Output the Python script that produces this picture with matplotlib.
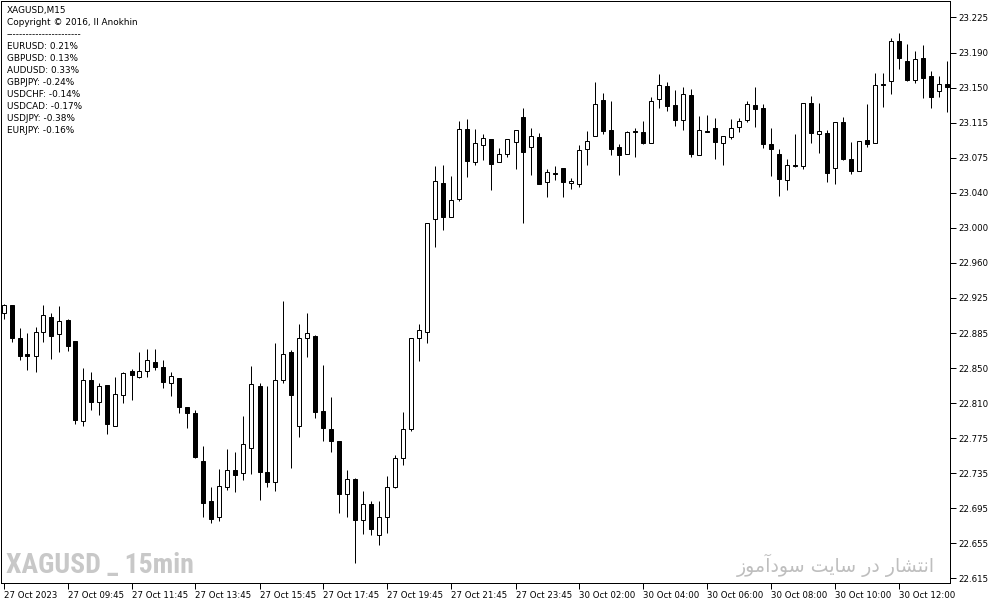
import numpy as np
import matplotlib
matplotlib.use("Agg")
import matplotlib.pyplot as plt

# ---------------- data (XAGUSD M15) ----------------
opens = [22.904, 22.912, 22.876, 22.859, 22.857, 22.883, 22.899, 22.881, 22.896, 22.873,
         22.786, 22.831, 22.807, 22.825, 22.781, 22.815, 22.841, 22.834, 22.841, 22.850,
         22.845, 22.828, 22.833, 22.802, 22.795, 22.743, 22.699, 22.682, 22.714, 22.733,
         22.730, 22.757, 22.824, 22.731, 22.720, 22.831, 22.861, 22.781, 22.876, 22.879,
         22.797, 22.777, 22.765, 22.707, 22.723, 22.679, 22.696, 22.662, 22.682, 22.714,
         22.746, 22.778, 22.876, 22.883, 23.006, 23.045, 23.008, 23.028, 23.104, 23.068,
         23.086, 23.093, 23.068, 23.077, 23.090, 23.117, 23.084, 23.095, 23.046, 23.056,
         23.061, 23.045, 23.044, 23.082, 23.096, 23.135, 23.103, 23.084, 23.077, 23.102,
         23.100, 23.089, 23.136, 23.151, 23.130, 23.114, 23.141, 23.076, 23.102, 23.105,
         23.088, 23.095, 23.106, 23.113, 23.130, 23.127, 23.087, 23.077, 23.048, 23.065,
         23.063, 23.132, 23.098, 23.099, 23.061, 23.111, 23.071, 23.058, 23.092, 23.088,
         23.153, 23.156, 23.199, 23.178, 23.157, 23.181, 23.161, 23.145, 23.153]
highs = [22.913, 22.912, 22.887, 22.882, 22.888, 22.912, 22.904, 22.911, 22.897, 22.873,
         22.844, 22.839, 22.828, 22.825, 22.834, 22.840, 22.843, 22.861, 22.864, 22.865,
         22.853, 22.840, 22.833, 22.802, 22.798, 22.759, 22.715, 22.734, 22.756, 22.752,
         22.792, 22.846, 22.828, 22.824, 22.871, 22.917, 22.863, 22.892, 22.904, 22.880,
         22.847, 22.812, 22.765, 22.733, 22.724, 22.710, 22.699, 22.699, 22.726, 22.749,
         22.796, 22.877, 22.892, 23.002, 23.064, 23.065, 23.053, 23.112, 23.115, 23.104,
         23.098, 23.093, 23.083, 23.093, 23.103, 23.127, 23.105, 23.099, 23.060, 23.064,
         23.061, 23.050, 23.086, 23.102, 23.155, 23.143, 23.134, 23.087, 23.102, 23.105,
         23.112, 23.138, 23.164, 23.155, 23.146, 23.149, 23.147, 23.118, 23.119, 23.116,
         23.096, 23.115, 23.116, 23.134, 23.149, 23.131, 23.105, 23.082, 23.071, 23.098,
         23.132, 23.140, 23.132, 23.103, 23.111, 23.117, 23.090, 23.091, 23.131, 23.165,
         23.165, 23.203, 23.208, 23.196, 23.189, 23.195, 23.167, 23.161, 23.178]
lows = [22.897, 22.872, 22.853, 22.842, 22.839, 22.872, 22.854, 22.861, 22.862, 22.783,
        22.781, 22.798, 22.793, 22.772, 22.781, 22.806, 22.809, 22.833, 22.834, 22.842,
        22.822, 22.813, 22.795, 22.779, 22.746, 22.682, 22.675, 22.677, 22.711, 22.709,
        22.722, 22.729, 22.700, 22.714, 22.710, 22.828, 22.735, 22.769, 22.856, 22.789,
        22.765, 22.753, 22.686, 22.682, 22.632, 22.663, 22.662, 22.651, 22.665, 22.713,
        22.738, 22.775, 22.851, 22.871, 22.975, 22.994, 23.008, 23.025, 23.051, 23.065,
        23.070, 23.037, 23.068, 23.073, 23.060, 23.001, 23.054, 23.044, 23.030, 23.048,
        23.030, 23.038, 23.041, 23.065, 23.096, 23.098, 23.076, 23.054, 23.077, 23.073,
        23.087, 23.089, 23.127, 23.123, 23.107, 23.103, 23.073, 23.076, 23.100, 23.071,
        23.065, 23.093, 23.100, 23.111, 23.106, 23.083, 23.053, 23.031, 23.037, 23.062,
        23.060, 23.088, 23.078, 23.046, 23.044, 23.070, 23.055, 23.058, 23.084, 23.088,
        23.128, 23.142, 23.169, 23.156, 23.154, 23.137, 23.127, 23.138, 23.122]
closes = [22.912, 22.876, 22.857, 22.857, 22.883, 22.902, 22.879, 22.895, 22.868, 22.787,
          22.831, 22.807, 22.824, 22.783, 22.816, 22.838, 22.836, 22.841, 22.853, 22.845,
          22.829, 22.835, 22.801, 22.795, 22.747, 22.697, 22.680, 22.716, 22.733, 22.728,
          22.761, 22.827, 22.731, 22.720, 22.831, 22.859, 22.815, 22.876, 22.882, 22.796,
          22.779, 22.765, 22.707, 22.723, 22.679, 22.696, 22.669, 22.682, 22.715, 22.746,
          22.778, 22.877, 22.885, 23.002, 23.047, 23.008, 23.026, 23.104, 23.069, 23.089,
          23.094, 23.066, 23.077, 23.093, 23.103, 23.079, 23.096, 23.044, 23.057, 23.055,
          23.046, 23.047, 23.081, 23.091, 23.131, 23.102, 23.082, 23.076, 23.100, 23.100,
          23.089, 23.134, 23.152, 23.129, 23.114, 23.142, 23.077, 23.103, 23.101, 23.090,
          23.096, 23.105, 23.112, 23.131, 23.126, 23.087, 23.082, 23.049, 23.065, 23.063,
          23.132, 23.099, 23.102, 23.056, 23.111, 23.071, 23.058, 23.091, 23.087, 23.152,
          23.152, 23.199, 23.181, 23.157, 23.180, 23.159, 23.139, 23.153, 23.149]

time_labels = ["27 Oct 2023", "27 Oct 09:45", "27 Oct 11:45", "27 Oct 13:45", "27 Oct 15:45",
               "27 Oct 17:45", "27 Oct 19:45", "27 Oct 21:45", "27 Oct 23:45", "30 Oct 02:00",
               "30 Oct 04:00", "30 Oct 06:00", "30 Oct 08:00", "30 Oct 10:00", "30 Oct 12:00"]
price_labels = ["22.615", "22.655", "22.695", "22.735", "22.775", "22.810", "22.850", "22.885",
                "22.925", "22.960", "23.000", "23.040", "23.075", "23.115", "23.150", "23.190",
                "23.225"]
info_lines = ["XAGUSD,M15", "Copyright \u00a9 2016, Il Anokhin", "-" * 23,
              "EURUSD: 0.21%", "GBPUSD: 0.13%", "AUDUSD: 0.33%", "GBPJPY: -0.24%",
              "USDCHF: -0.14%", "USDCAD: -0.17%", "USDJPY: -0.38%", "EURJPY: -0.16%"]
watermark_left = "XAGUSD _ 15min"
watermark_right = "انتشار در سایت سودآموز"


# ------------- minimal Persian shaping (matplotlib has no shaper) -------------
_FORMS = {
    'ا': ('\uFE8D', '\uFE8E', None, None),
    'آ': ('\uFE81', '\uFE82', None, None),
    'ن': ('\uFEE5', '\uFEE6', '\uFEE7', '\uFEE8'),
    'ت': ('\uFE95', '\uFE96', '\uFE97', '\uFE98'),
    'ش': ('\uFEB5', '\uFEB6', '\uFEB7', '\uFEB8'),
    'ر': ('\uFEAD', '\uFEAE', None, None),
    'د': ('\uFEA9', '\uFEAA', None, None),
    'س': ('\uFEB1', '\uFEB2', '\uFEB3', '\uFEB4'),
    'ی': ('\uFEEF', '\uFEF0', '\uFEF3', '\uFEF4'),
    'و': ('\uFEED', '\uFEEE', None, None),
    'م': ('\uFEE1', '\uFEE2', '\uFEE3', '\uFEE4'),
    'ز': ('\uFEAF', '\uFEB0', None, None),
}


def _joins_next(ch):
    return ch in _FORMS and _FORMS[ch][2] is not None


def shape_rtl(text):
    out = []
    for i, ch in enumerate(text):
        if ch not in _FORMS:
            out.append(ch)
            continue
        prev = text[i - 1] if i > 0 else ''
        nxt = text[i + 1] if i + 1 < len(text) else ''
        jp = _joins_next(prev)
        jn = _joins_next(ch) and nxt in _FORMS
        iso, fin, ini, med = _FORMS[ch]
        if jp and jn:
            out.append(med)
        elif jp:
            out.append(fin)
        elif jn:
            out.append(ini)
        else:
            out.append(iso)
    return ''.join(out)[::-1]


# ---------------- figure ----------------
W, H = 991, 605
fig = plt.figure(figsize=(W / 100, H / 100), dpi=100)
fig.patch.set_facecolor("white")
ax = fig.add_axes([1 / W, 22 / H, 949 / W, 582 / H])
ax.set_facecolor("white")

n = len(opens)
x = np.arange(n)
o = np.array(opens)
c = np.array(closes)
hi = np.array(highs)
lo = np.array(lows)
bull = c >= o

px = 0.72  # 1 pixel in points
ax.vlines(x, lo, hi, color="black", linewidth=px, zorder=2)
bottoms = np.minimum(o, c)
heights = np.abs(c - o)
ax.bar(x[bull], heights[bull], bottom=bottoms[bull], width=0.5, color="white",
       edgecolor="black", linewidth=px, zorder=3)
ax.bar(x[~bull], heights[~bull], bottom=bottoms[~bull], width=0.5, color="black",
       edgecolor="black", linewidth=px, zorder=3)

ax.set_xlim(-0.3125, 118.3125)
ax.set_ylim(22.6101, 23.2429)

# y axis on the right
ax.yaxis.tick_right()
ax.set_yticks(np.linspace(22.615, 23.225, 17))
ax.set_yticklabels(price_labels)
ax.tick_params(axis="y", direction="out", length=4, width=px, pad=2, labelsize=6.2,
               colors="black")

ax.set_xticks(np.arange(0, n, 8)[:len(time_labels)])
ax.set_xticklabels(time_labels, ha="left")
ax.tick_params(axis="x", direction="out", length=4, width=px, pad=1.5, labelsize=6.2,
               colors="black")
for lab in ax.get_xticklabels():
    lab.set_horizontalalignment("left")

for s in ax.spines.values():
    s.set_linewidth(px)
    s.set_color("black")

# info text block (top-left)
for k, line in enumerate(info_lines):
    fig.text(7 / W, 1 - (10.5 + 12 * k) / H, line, fontsize=6.4, family="DejaVu Sans",
             va="center", ha="left", color="black")

# watermarks
fig.text(6 / W, 1 - 565 / H, watermark_left, fontsize=20, fontweight="bold",
         family=["Roboto Condensed", "Liberation Sans Narrow", "DejaVu Sans"],
         color="#c8c8c8", va="center", ha="left")
fig.text(935 / W, 1 - 565 / H, shape_rtl(watermark_right), fontsize=13.6,
         family="DejaVu Sans", color="#bebebe", va="center", ha="right")

fig.savefig("out.png", dpi=100)
